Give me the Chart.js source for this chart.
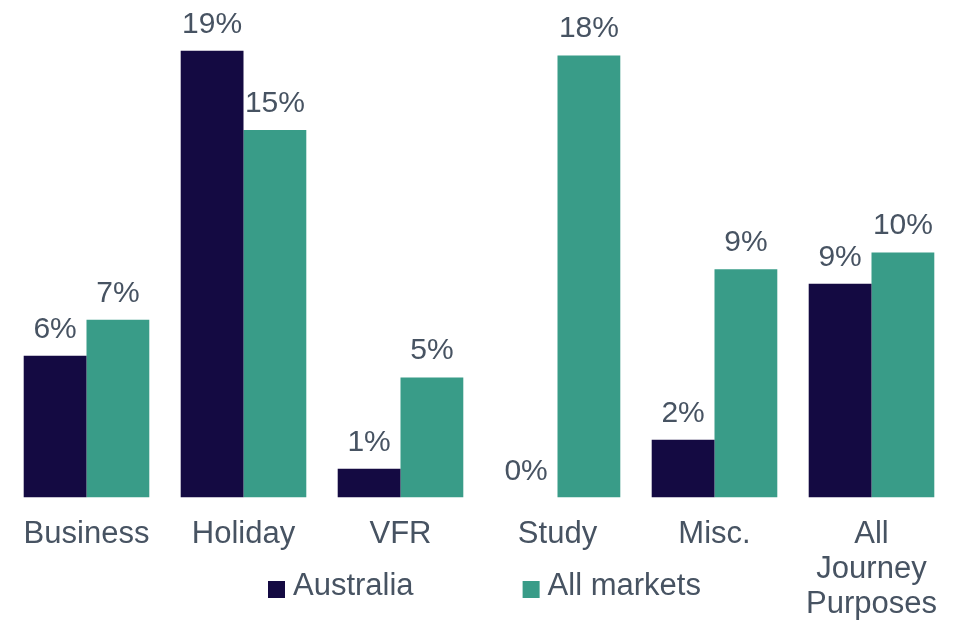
<!DOCTYPE html>
<html>
<head>
<meta charset="utf-8">
<script src="https://cdn.jsdelivr.net/npm/chart.js@4.4.1/dist/chart.umd.min.js"></script>
<style>
  html, body { margin: 0; padding: 0; background: #fff; }
  #wrap { width: 959px; height: 626px; position: relative; }
</style>
</head>
<body>
<div id="wrap"><canvas id="chart"></canvas></div>
<script>
// values (percent)
const categories = ['Business', 'Holiday', 'VFR', 'Study', 'Misc.', ['All', 'Journey', 'Purposes']];
const australia = [5.9, 18.6, 1.2, 0, 2.4, 8.9];
const allMarkets = [7.4, 15.3, 5.0, 18.4, 9.5, 10.2];
const australiaLabels = ['6%', '19%', '1%', '0%', '2%', '9%'];
const allMarketsLabels = ['7%', '15%', '5%', '18%', '9%', '10%'];

const navy = '#140a42';
const teal = '#399c88';
const textCol = '#475362';
const fontFamily = '"Liberation Sans", Arial, sans-serif';

// value labels above each bar
const barLabels = {
  id: 'barLabels',
  afterDatasetsDraw(chart) {
    const ctx = chart.ctx;
    ctx.save();
    ctx.font = '30px ' + fontFamily;
    ctx.fillStyle = textCol;
    ctx.textAlign = 'center';
    ctx.textBaseline = 'alphabetic';
    chart.data.datasets.forEach((ds, i) => {
      chart.getDatasetMeta(i).data.forEach((bar, j) => {
        ctx.fillText(ds.valueLabels[j], bar.x, bar.y - 18);
      });
    });
    ctx.restore();
  }
};

// legend drawn on the canvas so it can sit next to the wrapped last label
const sideLegend = {
  id: 'sideLegend',
  afterDraw(chart) {
    const ctx = chart.ctx;
    ctx.save();
    ctx.font = '31px ' + fontFamily;
    ctx.textBaseline = 'alphabetic';
    let x = 268;
    chart.data.datasets.forEach(ds => {
      ctx.fillStyle = ds.backgroundColor;
      ctx.fillRect(x, 581, 17, 17);
      ctx.fillStyle = textCol;
      ctx.fillText(ds.label, x + 25, 595);
      x += 25 + ctx.measureText(ds.label).width + 109;
    });
    ctx.restore();
  }
};

new Chart(document.getElementById('chart'), {
  type: 'bar',
  data: {
    labels: categories,
    datasets: [
      { label: 'Australia', data: australia, backgroundColor: navy, valueLabels: australiaLabels },
      { label: 'All markets', data: allMarkets, backgroundColor: teal, valueLabels: allMarketsLabels }
    ]
  },
  options: {
    responsive: true,
    maintainAspectRatio: false,
    animation: false,
    layout: { padding: { left: 8, right: 9, top: 17, bottom: 0 } },
    datasets: { bar: { categoryPercentage: 0.8, barPercentage: 1.0 } },
    plugins: { legend: { display: false }, tooltip: { enabled: false } },
    scales: {
      y: { display: false, min: 0, max: 20 },
      x: {
        grid: { display: false, drawTicks: false },
        border: { display: false },
        ticks: {
          color: textCol,
          padding: 19,
          maxRotation: 0,
          autoSkip: false,
          font: { size: 31, family: fontFamily, lineHeight: 1.13 }
        },
        afterFit(scale) { scale.height = 128.5; }
      }
    }
  },
  plugins: [barLabels, sideLegend]
});
</script>
</body>
</html>
